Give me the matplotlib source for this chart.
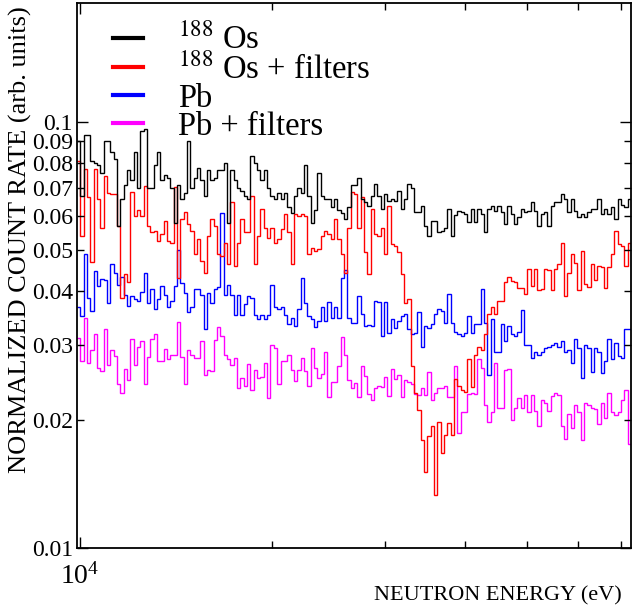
import numpy as np
import matplotlib
matplotlib.use('Agg')
import matplotlib.pyplot as plt
from matplotlib.ticker import FixedLocator, NullFormatter, FixedFormatter, LogFormatterMathtext
from matplotlib.lines import Line2D

plt.rcParams['font.family'] = ['Liberation Serif', 'DejaVu Serif']
plt.rcParams['mathtext.fontset'] = 'stix'

# energy binning (log-uniform bins)
E_MIN, E_MAX, N_BINS = 9.9e3, 7.26e4, 166

os188 = [
    0.09, 0.067, 0.093, 0.093, 0.081, 0.08, 0.079, 0.076, 0.09, 0.09,
    0.085, 0.082, 0.057, 0.066, 0.071, 0.077, 0.073, 0.085, 0.070, 0.095,
    0.096, 0.070, 0.070, 0.079, 0.085, 0.073, 0.075, 0.074, 0.070, 0.058,
    0.071, 0.066, 0.068, 0.090, 0.070, 0.074, 0.078, 0.073, 0.067, 0.077,
    0.073, 0.074, 0.077, 0.077,
    0.080, 0.058, 0.077, 0.073, 0.070, 0.069, 0.067, 0.066, 0.083, 0.080,
    0.077, 0.073, 0.077, 0.070, 0.067, 0.066, 0.068, 0.066, 0.068, 0.063,
    0.061, 0.067, 0.070, 0.068, 0.079, 0.067, 0.058, 0.062, 0.076, 0.067,
    0.066, 0.066, 0.063, 0.066, 0.062, 0.061, 0.059, 0.063, 0.071, 0.071,
    0.074,
    0.066, 0.0647, 0.0636, 0.067, 0.0715, 0.067, 0.0624, 0.0677, 0.0653, 0.0659,
    0.0653, 0.069, 0.0624, 0.0659, 0.0715, 0.0698, 0.0613, 0.0613, 0.0636, 0.057,
    0.054, 0.0586, 0.0586, 0.055, 0.0555, 0.0565, 0.0624, 0.054, 0.0603, 0.0618,
    0.0613, 0.0608, 0.0581, 0.0624, 0.0581, 0.0624, 0.0608, 0.055, 0.0624, 0.0636,
    0.0618, 0.0636, 0.0613, 0.0575, 0.0636, 0.0608, 0.0575, 0.0597, 0.0624, 0.0613,
    0.0618, 0.0647, 0.0618, 0.057, 0.0608, 0.0613, 0.057, 0.0636, 0.0647, 0.0647,
    0.0677, 0.0659, 0.0613, 0.0659, 0.0618, 0.0597, 0.0608, 0.0597, 0.0613, 0.0624,
    0.0624, 0.066, 0.0608, 0.0624, 0.0608, 0.063, 0.059, 0.066, 0.0638, 0.063,
    0.066,
]

os188_filt = [
    0.081, 0.054, 0.0775, 0.0665, 0.0468, 0.0775, 0.0659, 0.0565, 0.0748, 0.068,
    0.0677, 0.0677, 0.057, 0.0387, 0.044, 0.042, 0.0683, 0.0602, 0.062, 0.0602,
    0.0708, 0.057, 0.055, 0.0555, 0.0525, 0.0545, 0.0586, 0.0525, 0.0521, 0.0702,
    0.043, 0.0591, 0.0613, 0.0575, 0.0555, 0.0489, 0.053, 0.0472, 0.0443, 0.054,
    0.0591, 0.057, 0.0489, 0.0485, 0.0521, 0.0463, 0.0647, 0.0459, 0.0521, 0.0591,
    0.055, 0.055, 0.0671, 0.0463, 0.054, 0.0624, 0.0565, 0.0535, 0.0565, 0.0521,
    0.053, 0.056, 0.0608, 0.055, 0.0463, 0.0608, 0.0602, 0.0608, 0.0602, 0.0489,
    0.0507, 0.0497, 0.0502, 0.054, 0.0555, 0.0545, 0.053, 0.0591, 0.053, 0.0489,
    0.0443, 0.0565, 0.0683, 0.0677, 0.0565,
    0.0665, 0.0494, 0.044, 0.0624, 0.0545, 0.054, 0.0565, 0.0489, 0.0635, 0.0516,
    0.051, 0.0494, 0.044,
    0.0375, 0.0383, 0.0267, 0.0231, 0.0211, 0.0179, 0.0151, 0.0183, 0.0193, 0.0133,
    0.0198, 0.0167, 0.0184, 0.0197, 0.0184, 0.0249, 0.024, 0.0235, 0.0232, 0.0277,
    0.0239, 0.0284, 0.0297, 0.0292, 0.0317, 0.0354, 0.0367, 0.0354, 0.038, 0.038,
    0.042,
    0.0432, 0.0423, 0.042, 0.0408, 0.0408, 0.0395, 0.0451, 0.0412, 0.0451, 0.0404,
    0.0406, 0.0451, 0.0449, 0.0404, 0.0451, 0.0463, 0.0521, 0.039, 0.0443, 0.0489,
    0.0466, 0.0404, 0.0497, 0.0416, 0.041, 0.0463, 0.0426, 0.046, 0.0457, 0.0408,
    0.0457, 0.0489, 0.0555, 0.0516, 0.0512, 0.046, 0.0521,
]

pb = [
    0.0367, 0.035, 0.0489, 0.0387, 0.036, 0.0447, 0.0412, 0.0427, 0.0425, 0.0376,
    0.0463, 0.0443, 0.0415, 0.0433, 0.0393, 0.037, 0.039, 0.0383, 0.038, 0.0398,
    0.0443, 0.0376, 0.0405, 0.0363, 0.0383, 0.0412, 0.0393, 0.0367, 0.038, 0.0412,
    0.050, 0.0419, 0.0397, 0.0357, 0.0367, 0.0405, 0.0405, 0.0393, 0.0326, 0.0397,
    0.0376, 0.0405,
    0.041, 0.061, 0.0393, 0.0415, 0.0393, 0.0353, 0.0393, 0.0353, 0.0373, 0.039,
    0.0387, 0.0353, 0.0344, 0.0353, 0.0344, 0.0353, 0.0415, 0.0367, 0.0363, 0.0367,
    0.0353, 0.0335, 0.0347, 0.0332, 0.0363, 0.0431, 0.0376, 0.035, 0.0344, 0.033,
    0.0341, 0.0367, 0.0341, 0.0378, 0.0347, 0.0367, 0.0347, 0.0429, 0.045, 0.0347,
    0.0338, 0.0338, 0.039, 0.0354, 0.0332, 0.0333, 0.0332, 0.038, 0.0378, 0.0314,
    0.0378, 0.0319, 0.0344, 0.0329, 0.0341, 0.035, 0.0355, 0.0326, 0.0317, 0.0319,
    0.0357, 0.0297, 0.0332, 0.0329, 0.0335, 0.0354, 0.0364, 0.036, 0.0338, 0.0394,
    0.0338, 0.0322, 0.0317, 0.0314, 0.0319, 0.035, 0.0319, 0.0335, 0.0335, 0.0405,
    0.0338, 0.0255, 0.0344, 0.0289, 0.0289, 0.0335, 0.0306, 0.0332, 0.0317, 0.0314,
    0.0322, 0.0362, 0.03, 0.03, 0.0279, 0.0289, 0.0284, 0.0289, 0.0294, 0.0297,
    0.03, 0.0303, 0.0297, 0.0306, 0.0289, 0.0292, 0.0271, 0.0309, 0.0294, 0.0251,
    0.03, 0.0294, 0.0259, 0.0294, 0.0289, 0.0257, 0.0274, 0.0309, 0.0277, 0.0303,
    0.0282, 0.0279, 0.0326, 0.0326,
]

pb_filt = [
    0.0311, 0.0274, 0.0347, 0.0271, 0.0292, 0.0317, 0.0265, 0.026, 0.0326, 0.0269,
    0.0292, 0.0282, 0.0242, 0.0231, 0.0263, 0.0248, 0.0309, 0.0269, 0.0297, 0.0306,
    0.0242, 0.0281, 0.0309, 0.0317, 0.0274, 0.0274, 0.0293, 0.0278, 0.0284, 0.0284,
    0.034, 0.0281, 0.0242, 0.0292, 0.0283, 0.0279, 0.0279, 0.0306, 0.0254, 0.0262,
    0.026, 0.0308,
    0.033, 0.0315, 0.0284, 0.0278, 0.0269, 0.0279, 0.0237, 0.0251, 0.024, 0.027,
    0.0235, 0.0261, 0.0251, 0.0252, 0.0271, 0.0225, 0.03, 0.0295, 0.0243, 0.0274,
    0.0274, 0.0283, 0.0262, 0.0247, 0.0261, 0.0279, 0.026, 0.024, 0.0295, 0.0264,
    0.0251, 0.0256, 0.0289, 0.0226, 0.0245, 0.0245, 0.0267, 0.0313, 0.0283, 0.0248,
    0.0238, 0.0244, 0.0226, 0.0267, 0.0253, 0.023, 0.0223, 0.0237, 0.024, 0.0239,
    0.0252, 0.0227, 0.0263, 0.0249, 0.0255, 0.0226, 0.0248, 0.0245, 0.0243, 0.023,
    0.0229, 0.0237, 0.0229, 0.0259, 0.0223, 0.0231, 0.0237, 0.0238, 0.024, 0.0226,
    0.0226, 0.0267, 0.0186, 0.0208, 0.0209, 0.023, 0.0231, 0.023, 0.0277, 0.0265,
    0.0217, 0.0198, 0.0209, 0.0271, 0.0213, 0.0213, 0.0262, 0.0263, 0.02, 0.0213,
    0.0225, 0.0213, 0.0229, 0.0209, 0.0229, 0.021, 0.0193, 0.0223, 0.0219, 0.021,
    0.0227, 0.0231, 0.0228, 0.0193, 0.018, 0.0206, 0.0191, 0.0217, 0.0209, 0.0179,
    0.0219, 0.0216, 0.0213, 0.0212, 0.0195, 0.0219, 0.0202, 0.0231, 0.0208, 0.0205,
    0.0209, 0.0223, 0.0235, 0.0175,
]

series = [
    (os188, 'black', r'$^{188}$ Os'),
    (os188_filt, 'red', r'$^{188}$ Os + filters'),
    (pb, 'blue', 'Pb'),
    (pb_filt, 'magenta', 'Pb + filters'),
]

y_ticks = [0.01, 0.02, 0.03, 0.04, 0.05, 0.06, 0.07, 0.08, 0.09, 0.1]
y_labels = ['0.01', '0.02', '0.03', '0.04', '0.05', '0.06', '0.07', '0.08', '0.09', '0.1']

edges = np.logspace(np.log10(E_MIN), np.log10(E_MAX), N_BINS + 1)

fig = plt.figure(figsize=(6.33, 6.12), dpi=100)
ax = fig.add_axes([0.1216, 0.1046, 0.875, 0.8904])

# draw Pb first so the Os curves sit on top
for vals, col, lab in series[::-1]:
    ax.stairs(vals, edges, color=col, lw=1.0, baseline=None)

ax.set_xscale('log')
ax.set_yscale('log')
ax.set_xlim(E_MIN, E_MAX)
ax.set_ylim(0.01, 0.19)

ax.xaxis.set_major_locator(FixedLocator([1e4]))
ax.xaxis.set_major_formatter(LogFormatterMathtext())
ax.xaxis.set_minor_locator(FixedLocator([2e4, 3e4, 4e4, 5e4, 6e4, 7e4]))
ax.xaxis.set_minor_formatter(NullFormatter())

ax.yaxis.set_major_locator(FixedLocator([y_ticks[0], y_ticks[-1]]))
ax.yaxis.set_major_formatter(FixedFormatter([y_labels[0], y_labels[-1]]))
ax.yaxis.set_minor_locator(FixedLocator(y_ticks[1:-1]))
ax.yaxis.set_minor_formatter(FixedFormatter(y_labels[1:-1]))

ax.tick_params(which='both', direction='in', top=True, right=True, labelsize=17, width=1.0)
ax.tick_params(which='major', length=8)
ax.tick_params(which='minor', length=5)
ax.tick_params(axis='y', which='both', pad=3)
ax.tick_params(axis='x', which='both', pad=11, labelsize=20)
for s in ax.spines.values():
    s.set_linewidth(1.3)

handles = [Line2D([], [], color=c, lw=3) for _, c, _ in series]
ax.legend(handles, [l for _, _, l in series], loc='upper left', bbox_to_anchor=(0.042, 0.985),
          frameon=False, fontsize=23.5, handlelength=0.92, handletextpad=1.07,
          labelspacing=-0.08, borderaxespad=0.0)

fig.text(0.9826, 0.026, 'NEUTRON ENERGY (eV)', ha='right', va='center', fontsize=16)
fig.text(0.032, 0.608, 'NORMALIZED COUNT RATE (arb. units)', rotation=90,
         ha='center', va='center', fontsize=19)

fig.savefig('out.png', dpi=100)
